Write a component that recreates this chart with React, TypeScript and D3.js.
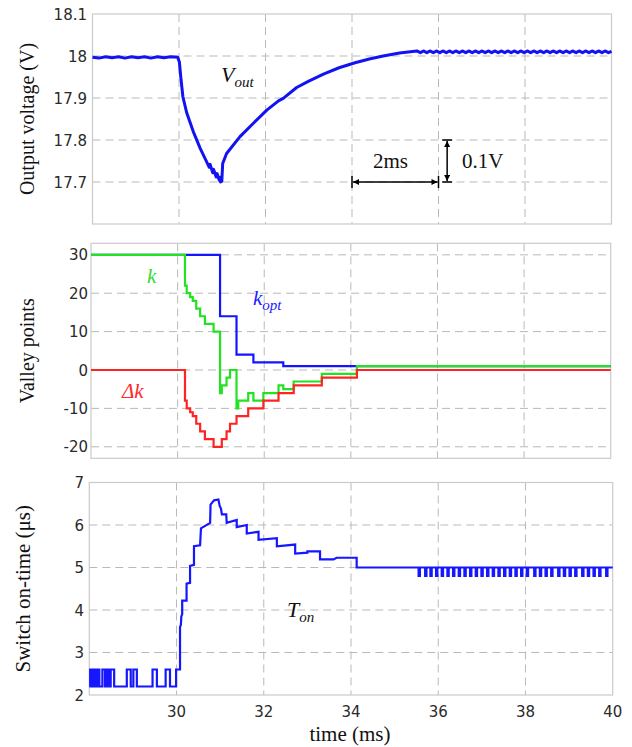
import React from 'react';
import * as d3 from 'd3';

// ---------- axis ticks ----------
const TIME_TICKS = [30, 32, 34, 36, 38, 40];
const TIME_GRID = [30, 32, 34, 36, 38];
const VOUT_TICKS = [17.7, 17.8, 17.9, 18, 18.1];
const VALLEY_TICKS = [-20, -10, 0, 10, 20, 30];
const TON_TICKS = [2, 3, 4, 5, 6, 7];

// ---------- output voltage (ms, V) ----------
const VOUT: [number, number][] = [
  [28.0, 17.997], [28.15, 17.995], [28.3, 17.998], [28.45, 17.996], [28.6, 17.998], [28.75, 17.995],
  [28.9, 17.998], [29.05, 17.996], [29.2, 17.998], [29.35, 17.995], [29.5, 17.998], [29.65, 17.996],
  [29.8, 17.998], [29.97, 17.997],
  [30.01, 17.985], [30.04, 17.951], [30.09, 17.903], [30.18, 17.864], [30.33, 17.82], [30.49, 17.78],
  [30.64, 17.748], [30.7, 17.735], [30.72, 17.742], [30.78, 17.722], [30.8, 17.73], [30.86, 17.712],
  [30.88, 17.72], [30.93, 17.705], [30.96, 17.7], [30.97, 17.712], [30.99, 17.702], [31.01, 17.744],
  [31.1, 17.768], [31.41, 17.808], [31.72, 17.84], [32.03, 17.871], [32.3, 17.893], [32.41, 17.899],
  [32.72, 17.925], [33.0, 17.94], [33.34, 17.957], [33.7, 17.972], [34.07, 17.984], [34.4, 17.993],
  [34.72, 18.0], [35.1, 18.007], [35.5, 18.012],
  [35.58, 18.008], [35.65, 18.012], [35.73, 18.008], [35.8, 18.012], [35.88, 18.008], [35.95, 18.012],
  [36.03, 18.008], [36.1, 18.012], [36.18, 18.008], [36.25, 18.012], [36.33, 18.008], [36.4, 18.012],
  [36.48, 18.008], [36.55, 18.012], [36.63, 18.008], [36.7, 18.012], [36.78, 18.008], [36.85, 18.012],
  [36.93, 18.008], [37.0, 18.012], [37.08, 18.008], [37.15, 18.012], [37.23, 18.008], [37.3, 18.012],
  [37.38, 18.008], [37.45, 18.012], [37.53, 18.008], [37.6, 18.012], [37.68, 18.008], [37.75, 18.012],
  [37.83, 18.008], [37.9, 18.012], [37.98, 18.008], [38.05, 18.012], [38.13, 18.008], [38.2, 18.012],
  [38.28, 18.008], [38.35, 18.012], [38.43, 18.008], [38.5, 18.012], [38.58, 18.008], [38.65, 18.012],
  [38.73, 18.008], [38.8, 18.012], [38.88, 18.008], [38.95, 18.012], [39.03, 18.008], [39.1, 18.012],
  [39.18, 18.008], [39.25, 18.012], [39.33, 18.008], [39.4, 18.012], [39.48, 18.008], [39.55, 18.012],
  [39.63, 18.008], [39.7, 18.012], [39.78, 18.008], [39.85, 18.012], [39.93, 18.008], [40.0, 18.011],
];

// ---------- valley points (step after: [ms, value]) ----------
const KOPT_STEPS: [number, number][] = [
  [28, 30], [30.98, 14], [31.36, 4], [31.75, 2], [32.44, 1], [40, 1],
];
const K_STEPS: [number, number][] = [
  [28, 30], [30.17, 22], [30.21, 20], [30.29, 19], [30.35, 18], [30.43, 16], [30.52, 14], [30.63, 12],
  [30.83, 10], [30.98, -6], [31.02, -4], [31.13, -2], [31.21, 0], [31.36, -10], [31.4, -8], [31.63, -6],
  [31.75, -8], [31.98, -6], [32.33, -4], [32.44, -5], [32.68, -3], [33.33, -1], [34.14, 1], [40, 1],
];
const DK_STEPS: [number, number][] = [
  [28, 0], [30.17, -8], [30.21, -10], [30.29, -11], [30.35, -12], [30.43, -14], [30.52, -16], [30.63, -18],
  [30.83, -20], [31.02, -18], [31.13, -16], [31.21, -14], [31.36, -12], [31.63, -10], [31.98, -8],
  [32.33, -6], [32.68, -4], [33.33, -2], [34.14, 0], [40, 0],
];

// ---------- switch on-time (ms, us) ----------
const TON_LOW = 2.2;
const TON_HIGH = 2.6;
const TON_PULSES: [number, number][] = [
  [28.02, 28.05], [28.08, 28.11], [28.14, 28.17], [28.2, 28.23], [28.3, 28.36], [28.41, 28.44],
  [28.49, 28.57], [28.86, 28.95], [29.01, 29.09], [29.45, 29.55], [29.75, 29.85],
];
const TON_MAIN: [number, number][] = [
  [29.99, 2.2], [29.99, 2.6], [30.08, 2.6], [30.08, 3.6], [30.1, 3.65], [30.11, 3.85], [30.13, 3.9],
  [30.13, 4.22], [30.23, 4.22], [30.23, 4.62], [30.31, 4.64], [30.31, 5.04], [30.4, 5.06], [30.4, 5.5],
  [30.54, 5.52], [30.56, 5.92], [30.77, 6.05], [30.78, 6.48], [30.86, 6.58], [30.96, 6.6], [30.99, 6.45],
  [31.02, 6.38], [31.04, 6.25], [31.14, 6.25], [31.15, 6.05], [31.38, 6.12], [31.38, 5.95], [31.61, 6.0],
  [31.61, 5.8], [31.88, 5.84], [31.88, 5.65], [32.3, 5.69], [32.3, 5.5], [32.72, 5.54], [32.72, 5.33],
  [33.0, 5.35], [33.0, 5.38], [33.29, 5.38], [33.29, 5.19], [33.6, 5.19], [33.67, 5.23], [34.13, 5.23],
  [34.13, 5.0], [35.5, 5.0],
];
const TON_BASE = 5.0;
const TON_DIP = 4.8;
const TON_DIPS = [
  35.55, 35.7, 35.82, 35.95, 36.08, 36.21, 36.34, 36.47, 36.6, 36.73, 36.86, 36.99, 37.12, 37.25,
  37.38, 37.51, 37.64, 37.77, 37.9, 38.03, 38.2, 38.33, 38.46, 38.59, 38.75, 38.88, 39.01, 39.14,
  39.3, 39.43, 39.56, 39.69, 39.85,
];

const GRID = '#b9b9b9';
const FRAME = '#cacaca';
const TICK_FONT = 'DejaVu Sans, Verdana, sans-serif';
const SERIF = '"Liberation Serif", "Times New Roman", serif';

type Panel = { x0: number; x1: number; y0: number; y1: number; dom: [number, number]; ticks: number[]; labelX: number; fmt: (v: number) => string };

const TOP: Panel = { x0: 92.5, x1: 611.5, y0: 14, y1: 224, dom: [17.6, 18.1], ticks: VOUT_TICKS, labelX: 87, fmt: (v) => String(+v.toFixed(1)) };
const MID: Panel = { x0: 91, x1: 610.7, y0: 243.3, y1: 458.3, dom: [-23, 33], ticks: VALLEY_TICKS, labelX: 88, fmt: (v) => String(v) };
const BOT: Panel = { x0: 89.3, x1: 612.7, y0: 482.5, y1: 695, dom: [2, 7], ticks: TON_TICKS, labelX: 84, fmt: (v) => String(v) };

function scales(p: Panel) {
  const x = d3.scaleLinear().domain([28, 40]).range([p.x0, p.x1]);
  const y = d3.scaleLinear().domain(p.dom).range([p.y1, p.y0]);
  return { x, y };
}

function Frame({ p }: { p: Panel }) {
  const { x, y } = scales(p);
  return (
    <g>
      {TIME_GRID.map((t) => (
        <line key={'v' + t} x1={x(t)} x2={x(t)} y1={p.y0} y2={p.y1} stroke={GRID} strokeWidth={1} strokeDasharray="8,5" />
      ))}
      {p.ticks
        .filter((v) => v > p.dom[0] && v < p.dom[1])
        .map((v) => (
          <line key={'h' + v} x1={p.x0} x2={p.x1} y1={y(v)} y2={y(v)} stroke={GRID} strokeWidth={1} strokeDasharray="8,5" />
        ))}
      <rect x={p.x0} y={p.y0} width={p.x1 - p.x0} height={p.y1 - p.y0} fill="none" stroke={FRAME} strokeWidth={1.2} />
      {p.ticks.map((v) => (
        <text key={'t' + v} x={p.labelX} y={y(v)} dy="0.37em" textAnchor="end" fontFamily={TICK_FONT} fontSize={15} fill="#2a2a2a">
          {p.fmt(v)}
        </text>
      ))}
    </g>
  );
}

export default function App() {
  const top = scales(TOP);
  const mid = scales(MID);
  const bot = scales(BOT);

  const vLine = d3.line<[number, number]>().x((d) => top.x(d[0])).y((d) => top.y(d[1]));
  const stepLine = d3
    .line<[number, number]>()
    .x((d) => mid.x(d[0]))
    .y((d) => mid.y(d[1]))
    .curve(d3.curveStepAfter);

  const tonPts: [number, number][] = [[28, TON_LOW]];
  TON_PULSES.forEach(([s, e]) => {
    tonPts.push([s, TON_LOW], [s, TON_HIGH], [e, TON_HIGH], [e, TON_LOW]);
  });
  TON_MAIN.forEach((d) => tonPts.push(d));
  TON_DIPS.forEach((d) => {
    tonPts.push([d, TON_BASE], [d, TON_DIP], [d + 0.03, TON_DIP], [d + 0.03, TON_BASE]);
  });
  tonPts.push([40, TON_BASE]);
  const tLine = d3.line<[number, number]>().x((d) => bot.x(d[0])).y((d) => bot.y(d[1]));

  // scale bar annotation positions (data coords of top panel)
  const hx1 = top.x(34), hx2 = top.x(36), hy = top.y(17.7);
  const vx = top.x(36.2), vy1 = top.y(17.8), vy2 = top.y(17.7);

  return (
    <svg width={632} height={747} style={{ position: 'absolute', left: 0, top: 0, background: '#fff' }}>
      <defs>
        <marker id="arr" viewBox="0 0 10 10" refX={10} refY={5} markerWidth={8} markerHeight={6} orient="auto-start-reverse" markerUnits="userSpaceOnUse">
          <path d="M0,0 L10,5 L0,10 z" fill="#000" />
        </marker>
      </defs>

      <Frame p={TOP} />
      <Frame p={MID} />
      <Frame p={BOT} />

      {/* top panel */}
      <path d={vLine(VOUT) || ''} fill="none" stroke="#1212f2" strokeWidth={3} strokeLinejoin="round" />
      <text x={221} y={82} fontFamily={SERIF} fontStyle="italic" fontSize={22} fill="#111">
        V<tspan fontSize={15} dy={5}>out</tspan>
      </text>
      <line x1={hx1} x2={hx1} y1={hy - 6} y2={hy + 6} stroke="#000" strokeWidth={1.5} />
      <line x1={hx2} x2={hx2} y1={hy - 6} y2={hy + 6} stroke="#000" strokeWidth={1.5} />
      <line x1={hx1 + 1} x2={hx2 - 1} y1={hy} y2={hy} stroke="#000" strokeWidth={1.5} markerStart="url(#arr)" markerEnd="url(#arr)" />
      <line x1={vx - 5} x2={vx + 5} y1={vy1} y2={vy1} stroke="#000" strokeWidth={1.5} />
      <line x1={vx - 5} x2={vx + 5} y1={vy2} y2={vy2} stroke="#000" strokeWidth={1.5} />
      <line x1={vx} x2={vx} y1={vy1 + 1} y2={vy2 - 1} stroke="#000" strokeWidth={1.5} markerStart="url(#arr)" markerEnd="url(#arr)" />
      <text x={373} y={168} fontFamily={SERIF} fontSize={21} fill="#111">2ms</text>
      <text x={462} y={168} fontFamily={SERIF} fontSize={21} fill="#111">0.1V</text>

      {/* middle panel */}
      <path d={stepLine(KOPT_STEPS) || ''} fill="none" stroke="#1414ff" strokeWidth={2.2} />
      <path d={stepLine(K_STEPS) || ''} fill="none" stroke="#22e222" strokeWidth={2.2} />
      <path d={stepLine(DK_STEPS) || ''} fill="none" stroke="#ff2424" strokeWidth={2.2} />
      <text x={147} y={283} fontFamily={SERIF} fontStyle="italic" fontSize={21} fill="#33dd33">k</text>
      <text x={253} y={305} fontFamily={SERIF} fontStyle="italic" fontSize={21} fill="#1a1aff">
        k<tspan fontSize={15} dy={5}>opt</tspan>
      </text>
      <text x={122} y={398} fontFamily={SERIF} fontStyle="italic" fontSize={21} fill="#ff2a2a">Δk</text>

      {/* bottom panel */}
      <path d={tLine(tonPts) || ''} fill="none" stroke="#1616ff" strokeWidth={2.2} />
      <text x={287} y={617} fontFamily={SERIF} fontStyle="italic" fontSize={22} fill="#111">
        T<tspan fontSize={15} dy={5}>on</tspan>
      </text>

      {/* x tick labels */}
      {TIME_TICKS.map((t) => (
        <text key={t} x={bot.x(t)} y={717} textAnchor="middle" fontFamily={TICK_FONT} fontSize={15} fill="#2a2a2a">
          {t}
        </text>
      ))}
      <text x={350} y={741} textAnchor="middle" fontFamily={SERIF} fontSize={21} fill="#111">time (ms)</text>

      {/* y axis titles */}
      <text transform={`translate(34,${(TOP.y0 + TOP.y1) / 2}) rotate(-90)`} textAnchor="middle" fontFamily={SERIF} fontSize={20} fill="#111">
        Output voltage (V)
      </text>
      <text transform={`translate(34,${(MID.y0 + MID.y1) / 2}) rotate(-90)`} textAnchor="middle" fontFamily={SERIF} fontSize={20} fill="#111">
        Valley points
      </text>
      <text transform={`translate(30,${(BOT.y0 + BOT.y1) / 2}) rotate(-90)`} textAnchor="middle" fontFamily={SERIF} fontSize={21} fill="#111">
        Switch on-time (μs)
      </text>
    </svg>
  );
}
